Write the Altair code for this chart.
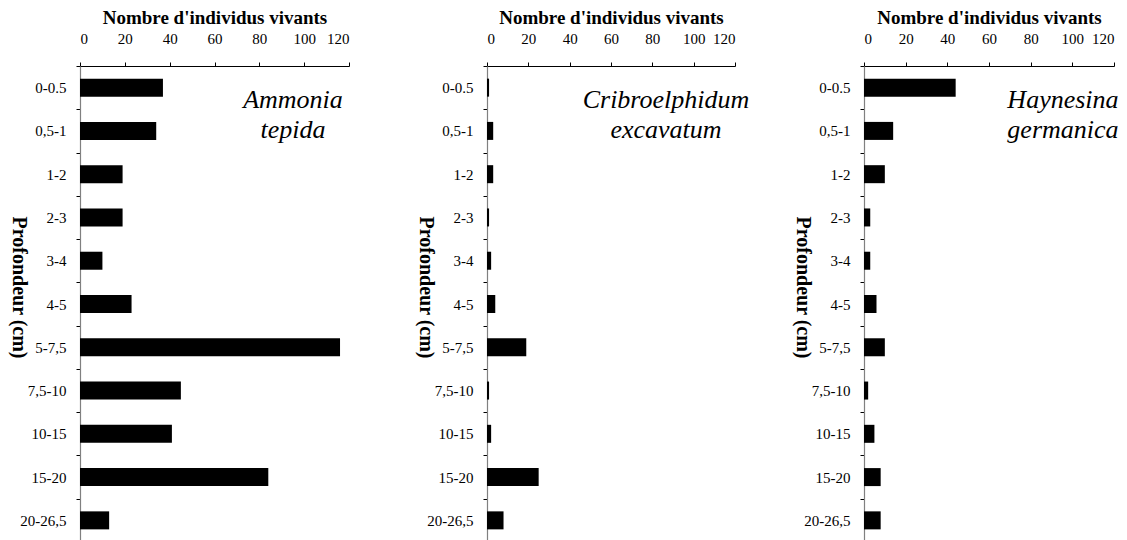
import altair as alt
import pandas as pd

depths = ["0-0.5", "0,5-1", "1-2", "2-3", "3-4", "4-5", "5-7,5", "7,5-10", "10-15", "15-20", "20-26,5"]
ammonia = [37, 34, 19, 19, 10, 23, 116, 45, 41, 84, 13]
cribro = [1, 3, 3, 1, 2, 4, 19, 1, 2, 25, 8]
haynesina = [44, 14, 10, 3, 3, 6, 10, 2, 5, 8, 8]
species = ["Ammonia\ntepida", "Cribroelphidum\nexcavatum", "Haynesina\ngermanica"]
species_x = [95, 86.6, 95.5]
x_ticks = [0, 20, 40, 60, 80, 100, 120]
x_title = "Nombre d'individus vivants"
y_title = "Profondeur (cm)"

FONT = "Liberation Serif"
H = 476
widths = [269, 248, 250]


def panel(values, name, lx, w):
    df = pd.DataFrame({"depth": depths, "n": values, "label": [name] + [""] * (len(depths) - 1),
                       "xv": [lx] * len(depths)})
    yscale = alt.Scale(paddingInner=0, paddingOuter=0)
    xscale = alt.Scale(domain=[0, 120], nice=False)
    y = alt.Y(
        "depth:N", sort=depths, scale=yscale,
        axis=alt.Axis(
            title=y_title, titleFont=FONT, titleFontSize=20, titleFontWeight="bold",
            titleAngle=90, titleX=-62, titleY=221, titleBaseline="middle", titleAlign="center",
            titleColor="black",
            labelFont=FONT, labelFontSize=15, labelColor="black", labelPadding=10,
            tickBand="extent", tickSize=4, tickColor="black",
            domainColor="#808080", domainWidth=1.2, grid=False,
        ),
    )
    x = alt.X(
        "n:Q", scale=xscale,
        axis=alt.Axis(
            orient="top", values=x_ticks, title=x_title, titleFont=FONT, titleFontSize=19,
            titleFontWeight="bold", titleColor="black", titlePadding=4,
            labelFont=FONT, labelFontSize=15, labelColor="black", labelPadding=16,
            tickSize=4, tickColor="black", domainColor="black", grid=False,
        ),
    )
    base = alt.Chart(df).encode(y=y)
    bars = base.mark_bar(color="black", size=18).encode(x=x)
    text = base.transform_filter(alt.datum.label != "").mark_text(
        font=FONT, fontStyle="italic", fontSize=26, lineBreak="\n", lineHeight=30,
        align="center", baseline="middle", dy=12, color="black",
    ).encode(
        x=alt.X("xv:Q", scale=xscale, title=x_title),
        text="label:N",
    )
    return alt.layer(bars, text).properties(width=w, height=H)


p1 = panel(ammonia, species[0], species_x[0], widths[0])
p2 = panel(cribro, species[1], species_x[1], widths[1])
p3 = panel(haynesina, species[2], species_x[2], widths[2])

chart = alt.hconcat(alt.hconcat(p1, p2, spacing=65), p3, spacing=42).properties(
    padding={"left": 0, "top": 0, "right": 0, "bottom": 0}
).configure_view(stroke=None)

chart.save("out.html", embed_options={"renderer": "svg", "actions": False})
